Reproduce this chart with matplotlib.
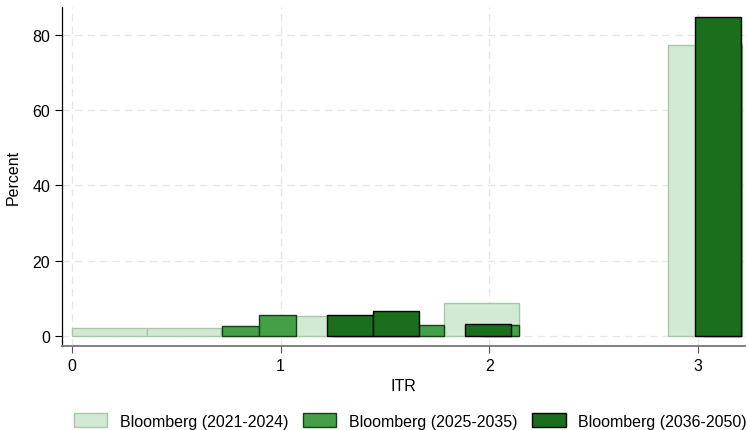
import matplotlib
matplotlib.use("Agg")
import matplotlib.pyplot as plt
from matplotlib.patches import Patch

plt.rcParams['font.family'] = ['Liberation Sans', 'DejaVu Sans']

# Histogram data (bin start, bin width, percent per bin)
labels = ["Bloomberg (2021-2024)", "Bloomberg (2025-2035)", "Bloomberg (2036-2050)"]

light_start, light_width = 0.0, 0.357
light_pct = [2.1, 2.1, 2.2, 5.4, 2.3, 8.7, 0, 0, 77.2]

mid_start, mid_width = 0.72, 0.1775
mid_pct = [2.7, 5.5, 0, 2.8, 2.8, 2.8, 0, 2.8, 0, 0, 0, 0, 0, 77.8]

dark_start, dark_width = 1.224, 0.22
dark_pct = [5.5, 6.5, 0, 3.3, 0, 0, 0, 0, 84.7]

xticks = [0, 1, 2, 3]
yticks = [0, 20, 40, 60, 80]

styles = [
    dict(facecolor="#d2e9d2", edgecolor="#a8c8a8", linewidth=1.0),
    dict(facecolor="#43a047", edgecolor="#173f17", linewidth=1.0),
    dict(facecolor="#1b6e1b", edgecolor="#000000", linewidth=1.0),
]

fig = plt.figure(figsize=(7.48, 4.31), dpi=100)
ax = fig.add_axes([0.0829, 0.195, 0.913, 0.7865])

series = [(light_start, light_width, light_pct),
          (mid_start, mid_width, mid_pct),
          (dark_start, dark_width, dark_pct)]
for (s, w, pct), st in zip(series, styles):
    xs = [s + i * w for i, p in enumerate(pct) if p > 0]
    hs = [p for p in pct if p > 0]
    ax.bar(xs, hs, width=w, align='edge', zorder=3, **st)

ax.set_xlim(-0.048, 3.225)
ax.set_ylim(-2.66, 87.4)
ax.set_xticks(xticks)
ax.set_yticks(yticks)
ax.grid(True, linestyle=(0, (6, 4)), color="#e6e6e6", linewidth=0.9, zorder=0)
for side in ["top", "right"]:
    ax.spines[side].set_visible(False)
ax.spines["left"].set_color("#000000")
ax.spines["left"].set_linewidth(0.9)
ax.spines["bottom"].set_color("#777777")
ax.spines["bottom"].set_linewidth(1.3)
ax.tick_params(axis='both', direction='out', length=5, width=0.8, labelsize=11.5, colors="#000000")
ax.tick_params(axis='x', color="#555555")
ax.set_xlabel("ITR", fontsize=11.5, labelpad=4)
ax.set_ylabel("Percent", fontsize=11.5, labelpad=8)

handles = [Patch(**st) for st in styles]
fig.legend(handles, labels, loc='lower center', bbox_to_anchor=(0.549, -0.03), ncol=3,
           frameon=False, fontsize=11.5, handlelength=2.07, handleheight=0.95,
           columnspacing=0.92, handletextpad=0.8)

fig.savefig("out.png", dpi=100)
